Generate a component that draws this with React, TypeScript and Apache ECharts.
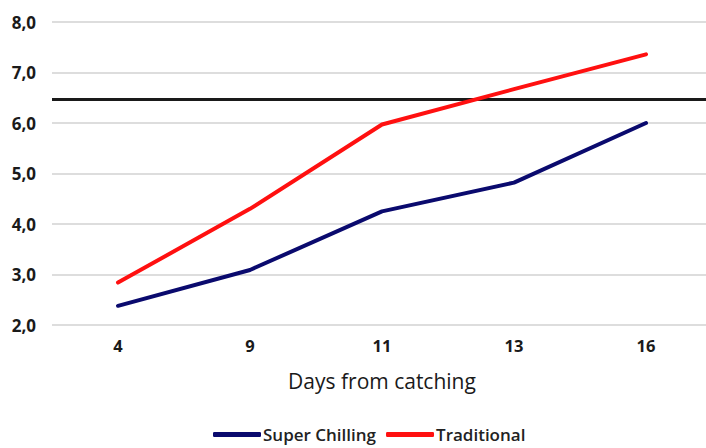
import React, { useEffect, useRef } from "react";
import * as echarts from "echarts";

const categories = ["4", "9", "11", "13", "16"];
const superChilling = [2.38, 3.09, 4.25, 4.82, 6.0];
const traditional = [2.84, 4.3, 5.97, 6.67, 7.36];
const limitValue = 6.47;
const yMin = 2;
const yMax = 8;
const yInterval = 1;

export default function App() {
  const ref = useRef<HTMLDivElement>(null);
  useEffect(() => {
    if (!ref.current) return;
    const chart = echarts.init(ref.current, null, { renderer: "svg" });
    const font = "'Open Sans', 'Noto Sans', sans-serif";
    chart.setOption({
      animation: false,
      backgroundColor: "#ffffff",
      grid: {
        left: 52,
        width: 660,
        top: 22,
        height: 303,
        containLabel: false,
        outerBoundsMode: "none",
      },
      legend: {
        bottom: 0,
        left: 208,
        itemWidth: 48,
        itemHeight: 5,
        itemGap: 10,
        icon: "roundRect",
        textStyle: { fontFamily: font, fontSize: 17, fontWeight: 600, color: "#222", padding: [0, 0, 0, -3] },
        data: ["Super Chilling", "Traditional"],
      },
      xAxis: {
        type: "category",
        data: categories,
        boundaryGap: true,
        name: "Days from catching",
        nameLocation: "middle",
        nameGap: 45,
        nameTextStyle: { fontFamily: font, fontSize: 21, color: "#1a1a1a" },
        axisLine: { show: false },
        axisTick: { show: false },
        axisLabel: { margin: 12, fontFamily: font, fontSize: 16.5, fontWeight: 700, color: "#1a1a1a" },
        splitLine: { show: false },
      },
      yAxis: {
        type: "value",
        min: yMin,
        max: yMax,
        interval: yInterval,
        axisLine: { show: false },
        axisTick: { show: false },
        axisLabel: {
          margin: 16,
          fontFamily: font,
          fontSize: 17,
          fontWeight: 700,
          color: "#1a1a1a",
          formatter: (v: number) => v.toFixed(1).replace(".", ","),
        },
        splitLine: { show: true, lineStyle: { color: "#d2d2d2", width: 1.5 } },
      },
      series: [
        {
          name: "Super Chilling",
          type: "line",
          data: superChilling,
          symbol: "none",
          lineStyle: { color: "#0a0a6e", width: 4, cap: "round", join: "round" },
          itemStyle: { color: "#0a0a6e" },
          z: 3,
          markLine: {
            silent: true,
            symbol: "none",
            label: { show: false },
            lineStyle: { color: "#1a1a1a", width: 3, type: "solid" },
            data: [{ yAxis: limitValue }],
            z: 1,
          },
        },
        {
          name: "Traditional",
          type: "line",
          data: traditional,
          symbol: "none",
          lineStyle: { color: "#ff1010", width: 4, cap: "round", join: "round" },
          itemStyle: { color: "#ff1010" },
          z: 4,
        },
      ],
    });
    return () => chart.dispose();
  }, []);
  return (
    <div
      ref={ref}
      style={{ position: "absolute", left: 0, top: 0, width: 706, height: 448, background: "#fff" }}
    />
  );
}
